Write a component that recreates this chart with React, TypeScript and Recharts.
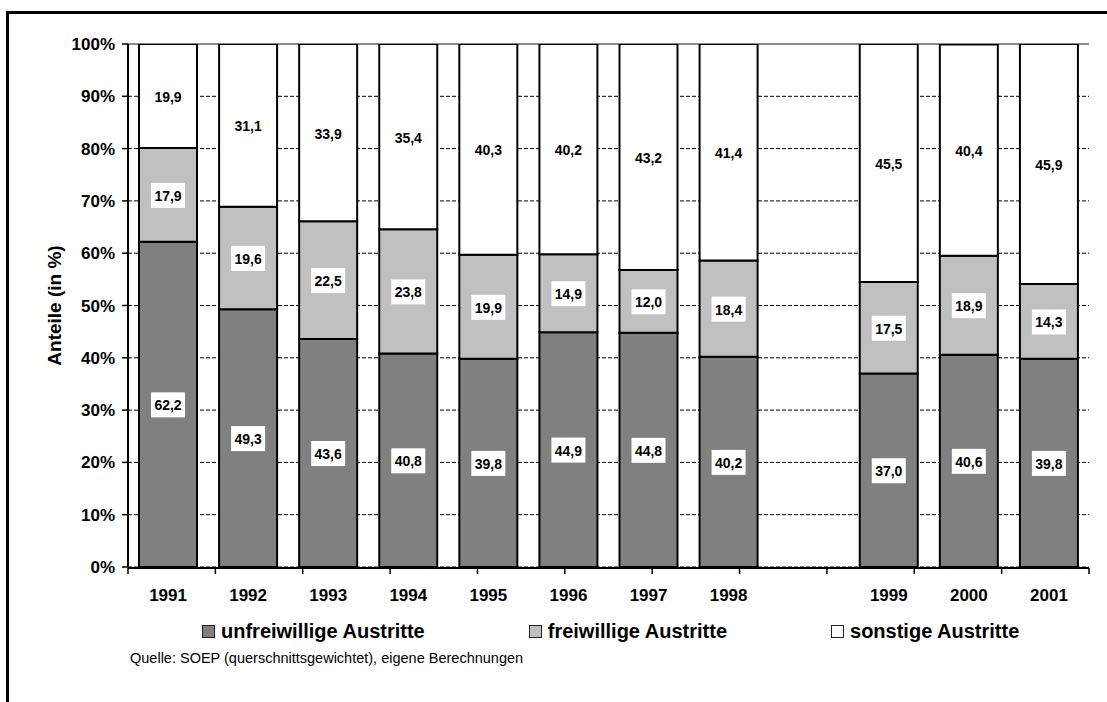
import React from "react";
import {
	Bar,
	BarChart,
	CartesianGrid,
	LabelList,
	Legend,
	ReferenceLine,
	XAxis,
	YAxis,
} from "recharts";

// years; "" is the empty slot between 1998 and 1999
const years = ["1991", "1992", "1993", "1994", "1995", "1996", "1997", "1998", "", "1999", "2000", "2001"];
const unfreiwillige = [62.2, 49.3, 43.6, 40.8, 39.8, 44.9, 44.8, 40.2, null, 37.0, 40.6, 39.8];
const freiwillige = [17.9, 19.6, 22.5, 23.8, 19.9, 14.9, 12.0, 18.4, null, 17.5, 18.9, 14.3];
const sonstige = [19.9, 31.1, 33.9, 35.4, 40.3, 40.2, 43.2, 41.4, null, 45.5, 40.4, 45.9];
const seriesNames = ["unfreiwillige Austritte", "freiwillige Austritte", "sonstige Austritte"];
const yTicks = [0, 10, 20, 30, 40, 50, 60, 70, 80, 90, 100];
const edgeTicks = [0, 1, 2, 3, 4, 5, 6, 7, 8, 9, 10, 11, 12];

const data = years.map((year, i) => ({
	year,
	unfreiwillige: unfreiwillige[i],
	freiwillige: freiwillige[i],
	sonstige: sonstige[i],
}));

const FONT = '"Liberation Sans", Arial, sans-serif';
const fmt = (v: number) => v.toFixed(1).replace(".", ",");

const ValueBox = (p: any) => {
	const { x, y, width, height, value } = p;
	if (value == null || isNaN(Number(height))) return null;
	const cx = Number(x) + Number(width) / 2;
	const cy = Number(y) + Number(height) / 2;
	return (
		<g>
			<rect x={cx - 17} y={cy - 12} width={34} height={25} fill="#fff" />
			<text
				x={cx}
				y={cy + 1}
				textAnchor="middle"
				dominantBaseline="central"
				fontSize={14}
				fontWeight="bold"
				fontFamily={FONT}
				fill="#000"
			>
				{fmt(Number(value))}
			</text>
		</g>
	);
};

// dashed grid, but the 100% line is the grey plot-area border
const GridLine = (p: any) => {
	const top = Math.abs(Number(p.y1) - Number(p.y)) < 1;
	return (
		<line
			x1={p.x1}
			y1={p.y1}
			x2={p.x2}
			y2={p.y2}
			stroke={top ? "#8c8c8c" : "#000"}
			strokeWidth={top ? 2 : 1}
			strokeDasharray={top ? undefined : "4 2"}
		/>
	);
};

const LegendBox = (props: any) => {
	const items = [...(props.payload ?? [])].sort(
		(a: any, b: any) => seriesNames.indexOf(a.value) - seriesNames.indexOf(b.value),
	);
	return (
		<div style={{ display: "flex", gap: 104, fontFamily: FONT, alignItems: "center" }}>
			{items.map((it: any) => (
				<div key={it.value} style={{ display: "flex", alignItems: "center", gap: 6 }}>
					<span
						style={{
							width: 11,
							height: 11,
							background: it.color,
							border: "1px solid #222",
							display: "inline-block",
						}}
					/>
					<span style={{ fontSize: 20, fontWeight: "bold", color: "#000", whiteSpace: "nowrap" }}>
						{it.value}
					</span>
				</div>
			))}
		</div>
	);
};

export default function App() {
	return (
		<div style={{ position: "fixed", left: 0, top: 0, width: 1107, height: 702, background: "#fff" }}>
			<div
				style={{
					position: "absolute",
					left: 6,
					top: 11,
					width: 1101,
					height: 691,
					borderTop: "3px solid #000",
					borderLeft: "3px solid #000",
					boxSizing: "border-box",
				}}
			/>
			<div style={{ position: "absolute", left: 0, top: 0 }}>
				<BarChart
					width={1107}
					height={702}
					data={data}
					margin={{ top: 44, right: 18, bottom: 133, left: 0 }}
					barSize={58}
				>
					<CartesianGrid vertical={false} horizontal={(p: any) => <GridLine key={p.key} {...p} />} />
					<YAxis
						type="number"
						domain={[0, 100]}
						ticks={yTicks}
						allowDataOverflow
						width={128}
						interval={0}
						tickFormatter={(v: number) => `${v}%`}
						tick={{ fontSize: 17, fontWeight: "bold", fill: "#000", fontFamily: FONT }}
						tickLine={{ stroke: "#000", strokeWidth: 1.5 }}
						axisLine={{ stroke: "#000", strokeWidth: 2 }}
						tickSize={6}
						tickMargin={7}
						label={{
							value: "Anteile (in %)",
							angle: -90,
							position: "center",
							dx: -10,
							style: { fontSize: 19, fontWeight: "bold", fill: "#000", fontFamily: FONT },
						}}
					/>
					<XAxis
						xAxisId="edges"
						type="number"
						domain={[0, 12]}
						ticks={edgeTicks}
						allowDataOverflow
						height={1}
						interval={0}
						tickFormatter={() => ""}
						tickSize={6}
						tickLine={{ stroke: "#000", strokeWidth: 1.5 }}
						axisLine={{ stroke: "#000", strokeWidth: 2 }}
					/>
					<XAxis
						dataKey="year"
						height={1}
						interval={0}
						tickLine={false}
						axisLine={false}
						tickSize={6}
						tickMargin={16}
						tick={{ fontSize: 17, fontWeight: "bold", fill: "#000", fontFamily: FONT }}
					/>
					<ReferenceLine x={12} xAxisId="edges" stroke="#8c8c8c" strokeWidth={2} />
					<Legend
						verticalAlign="bottom"
						content={<LegendBox />}
						wrapperStyle={{ left: 202, top: 620, bottom: "auto", width: "auto", height: 0 }}
					/>
					<Bar
						dataKey="unfreiwillige"
						name={seriesNames[0]}
						stackId="a"
						fill="#808080"
						stroke="#000"
						strokeWidth={2}
						isAnimationActive={false}
					>
						<LabelList dataKey="unfreiwillige" content={<ValueBox />} />
					</Bar>
					<Bar
						dataKey="freiwillige"
						name={seriesNames[1]}
						stackId="a"
						fill="#c0c0c0"
						stroke="#000"
						strokeWidth={2}
						isAnimationActive={false}
					>
						<LabelList dataKey="freiwillige" content={<ValueBox />} />
					</Bar>
					<Bar
						dataKey="sonstige"
						name={seriesNames[2]}
						stackId="a"
						fill="#ffffff"
						stroke="#000"
						strokeWidth={2}
						isAnimationActive={false}
					>
						<LabelList dataKey="sonstige" content={<ValueBox />} />
					</Bar>
				</BarChart>
			</div>
			<div
				style={{
					position: "absolute",
					left: 130,
					top: 650,
					fontFamily: FONT,
					fontSize: 14.5,
					color: "#000",
					whiteSpace: "nowrap",
				}}
			>
				Quelle: SOEP (querschnittsgewichtet), eigene Berechnungen
			</div>
		</div>
	);
}
